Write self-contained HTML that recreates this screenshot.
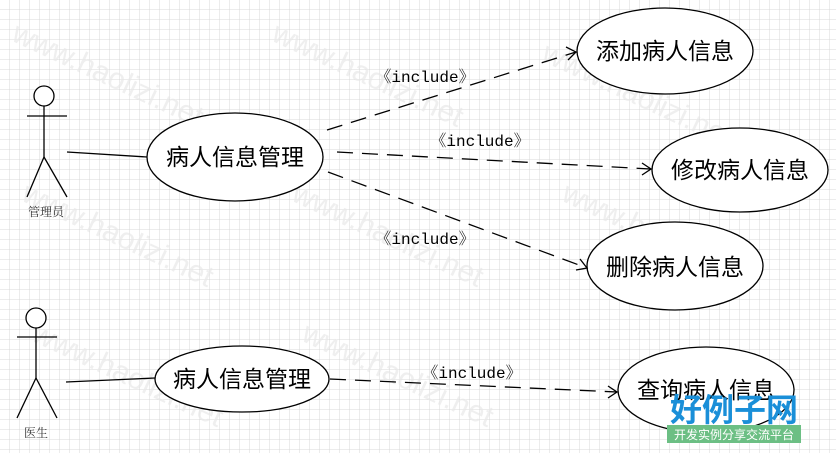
<!DOCTYPE html>
<html><head><meta charset="utf-8"><style>
html,body{margin:0;padding:0;background:#fff;}
svg{display:block;}
</style></head><body>
<svg width="836" height="453" viewBox="0 0 836 453" xmlns="http://www.w3.org/2000/svg">
<defs>
<pattern id="g" width="10" height="10" patternUnits="userSpaceOnUse">
<path d="M10 0V10M0 10H10" fill="none" stroke="#d8d8d8" stroke-width="1"/>
</pattern>
</defs>
<rect width="836" height="453" fill="#fff"/>
<rect width="836" height="453" fill="url(#g)"/>
<g font-family="Liberation Sans, sans-serif" font-size="30" fill="#e8e8e8" opacity="0.7">
<text transform="translate(10,40) rotate(25)">www.haolizi.net</text>
<text transform="translate(270,40) rotate(25)">www.haolizi.net</text>
<text transform="translate(540,60) rotate(25)">www.haolizi.net</text>
<text transform="translate(20,200) rotate(25)">www.haolizi.net</text>
<text transform="translate(290,200) rotate(25)">www.haolizi.net</text>
<text transform="translate(560,200) rotate(25)">www.haolizi.net</text>
<text transform="translate(30,340) rotate(25)">www.haolizi.net</text>
<text transform="translate(300,340) rotate(25)">www.haolizi.net</text>
</g>
<g stroke="#000" stroke-width="1.3" fill="none">
<circle cx="44" cy="96" r="10" fill="#fff"/>
<line x1="44" y1="106" x2="44" y2="157"/>
<line x1="27" y1="116" x2="67" y2="116"/>
<line x1="44" y1="157" x2="27" y2="197"/>
<line x1="44" y1="157" x2="67" y2="197"/>
<line x1="67" y1="152" x2="147" y2="157"/>
<circle cx="36" cy="318" r="10" fill="#fff"/>
<line x1="36" y1="328" x2="36" y2="378"/>
<line x1="17" y1="337" x2="57" y2="337"/>
<line x1="36" y1="378" x2="17" y2="418"/>
<line x1="36" y1="378" x2="57" y2="418"/>
<line x1="66" y1="382" x2="155" y2="378"/>
<ellipse cx="235" cy="157" rx="88" ry="44" fill="#fff"/>
<ellipse cx="665" cy="51" rx="88" ry="43" fill="#fff"/>
<ellipse cx="740" cy="170" rx="88" ry="42" fill="#fff"/>
<ellipse cx="675" cy="266" rx="88" ry="44" fill="#fff"/>
<ellipse cx="242" cy="379" rx="87" ry="33" fill="#fff"/>
<ellipse cx="706" cy="390" rx="88" ry="43" fill="#fff"/>
<g stroke-dasharray="16 9">
<line x1="327" y1="130" x2="576" y2="52"/>
<line x1="337" y1="152" x2="651" y2="169"/>
<line x1="328" y1="172" x2="587" y2="268"/>
<line x1="330" y1="379" x2="617" y2="392"/>
</g>
<polyline points="566,47 576,52 568,60"/>
<polyline points="642,163 651,169 642,175"/>
<polyline points="580,259 587,268 576,270"/>
<polyline points="608,386 617,392 608,398"/>
</g>
<g font-family="Liberation Sans, 'Noto Sans CJK SC', sans-serif" font-size="23" fill="#000" text-anchor="middle">
<text x="235" y="165">病人信息管理</text>
<text x="665" y="59">添加病人信息</text>
<text x="740" y="178">修改病人信息</text>
<text x="675" y="275">删除病人信息</text>
<text x="242" y="387">病人信息管理</text>
<text x="706" y="398">查询病人信息</text>
</g>
<g font-family="'Noto Serif CJK SC', 'Liberation Serif', serif" font-size="12" fill="#333" text-anchor="middle">
<text x="46" y="216">管理员</text>
<text x="36" y="437">医生</text>
</g>
<g font-family="'Liberation Mono', 'Noto Serif CJK SC', monospace" font-size="16" fill="#000" text-anchor="middle">
<text x="425" y="82">《include》</text>
<text x="480" y="146">《include》</text>
<text x="425" y="244">《include》</text>
<text x="472" y="378">《include》</text>
</g>
<text x="734" y="421" font-family="'Noto Sans CJK SC', sans-serif" font-weight="bold" font-size="32" fill="#1a8fd8" text-anchor="middle">好例子网</text>
<rect x="667" y="425" width="134" height="18" fill="#6cbf84"/>
<text x="734" y="439" font-family="'Noto Sans CJK SC', sans-serif" font-size="12" fill="#fff" text-anchor="middle">开发实例分享交流平台</text>
</svg>
</body></html>
